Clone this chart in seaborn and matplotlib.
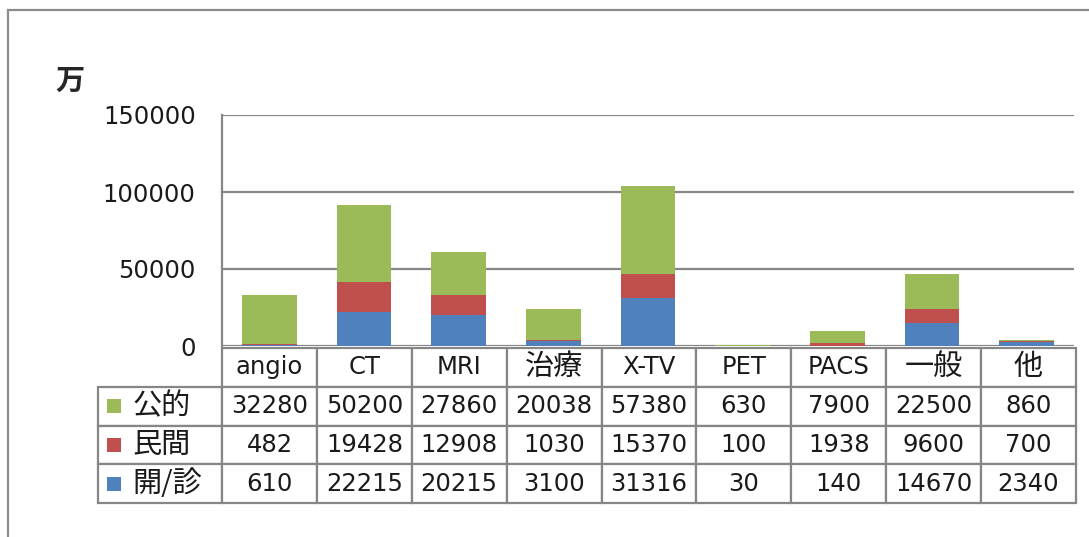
import matplotlib
matplotlib.use('Agg')
import matplotlib.pyplot as plt
import seaborn as sns
import pandas as pd
from matplotlib.patches import Rectangle

# ------------ data --------------
categories = ['angio', 'CT', 'MRI', '治療', 'X-TV', 'PET', 'PACS', '一般', '他']
public = [32280, 50200, 27860, 20038, 57380, 630, 7900, 22500, 860]      # 公的
private = [482, 19428, 12908, 1030, 15370, 100, 1938, 9600, 700]         # 民間
clinic = [610, 22215, 20215, 3100, 31316, 30, 140, 14670, 2340]          # 開/診
series_names = ['公的', '民間', '開/診']
y_ticks = [0, 50000, 100000, 150000]
unit_label = '万'

GREEN = '#9BBB59'
RED = '#C0504D'
BLUE = '#4F81BD'
GRID = '#868686'
CJK = ['Noto Sans CJK JP', 'DejaVu Sans']

sns.set_style('white')
plt.rcParams['font.family'] = ['DejaVu Sans', 'Noto Sans CJK JP']

df = pd.DataFrame({'cat': categories, 'public': public, 'private': private, 'clinic': clinic})
df['top'] = df['public'] + df['private'] + df['clinic']
df['mid'] = df['private'] + df['clinic']

fig = plt.figure(figsize=(10.89, 5.37), dpi=100)
W, H = 1089, 537
ax = fig.add_axes([222 / W, 1 - 346 / H, (1074 - 222) / W, (346 - 115) / H])

# stacked bars drawn back to front
sns.barplot(data=df, x='cat', y='top', order=categories, color=GREEN, width=0.58,
            saturation=1, ax=ax, linewidth=0)
sns.barplot(data=df, x='cat', y='mid', order=categories, color=RED, width=0.58,
            saturation=1, ax=ax, linewidth=0)
sns.barplot(data=df, x='cat', y='clinic', order=categories, color=BLUE, width=0.58,
            saturation=1, ax=ax, linewidth=0)

ax.set_ylim(0, 150000)
ax.set_xlim(-0.5, len(categories) - 0.5)
ax.set_yticks(y_ticks)
ax.set_yticklabels([str(t) for t in y_ticks], fontsize=17.5, color='#1a1a1a')
ax.set_xticks([])
ax.set_xlabel('')
ax.set_ylabel('')
ax.tick_params(axis='y', length=0, pad=19)
ax.yaxis.grid(True, color=GRID, linewidth=1.6)
ax.set_axisbelow(True)
for s in ['top', 'right', 'bottom']:
    ax.spines[s].set_visible(False)
ax.spines['left'].set_color(GRID)
ax.spines['left'].set_linewidth(1.6)

fig.text(55 / W, 1 - 81 / H, unit_label, fontsize=21, fontweight='bold', va='center',
         family=CJK)

# data table, cell sizes given in axes units
ax_w = 1074 - 222
ax_h = 346 - 115
label_w = 124 / ax_w
col_w = (1076 - 222) / len(categories) / ax_w
row_h = (503 - 348) / 4 / ax_h
cell_text = [[str(v) for v in public], [str(v) for v in private], [str(v) for v in clinic]]
tbl = ax.table(cellText=cell_text, rowLabels=series_names, colLabels=categories,
               colWidths=[col_w] * len(categories),
               cellLoc='center', rowLoc='left', colLoc='center',
               bbox=[0, -(503 - 346) / ax_h, col_w * len(categories), row_h * 4])
tbl._autoColumns = []  # keep the fixed row-label column width
tbl.auto_set_font_size(False)
tbl.set_fontsize(17.5)
for (r, c), cell in tbl.get_celld().items():
    cell.set_edgecolor(GRID)
    cell.set_linewidth(1.6)
    cell.set_height(row_h)
    txt = cell.get_text()
    txt.set_color('#1a1a1a')
    if c == -1:
        cell.set_width(label_w)
        cell.PAD = 0.28
    else:
        cell.set_width(col_w)
    if any(ord(ch) > 0x2000 for ch in txt.get_text()):
        txt.set_fontfamily(CJK)
        txt.set_fontsize(21)

# legend squares inside the row-label cells
for i, col in enumerate([GREEN, RED, BLUE]):
    yc = 348 + (503 - 348) / 4 * (i + 1.5)
    ax.scatter([(114 - 222) / ax_w], [-(yc - 346) / ax_h], marker='s', s=110,
               color=col, transform=ax.transAxes, clip_on=False, linewidths=0)

# outer chart frame
fig.patches.append(Rectangle((8 / W, -0.1), 1.2, 1.1 - 10 / H, transform=fig.transFigure,
                             fill=False, edgecolor='#8c8c8c', linewidth=1.6))

fig.savefig('out.png', dpi=100)
